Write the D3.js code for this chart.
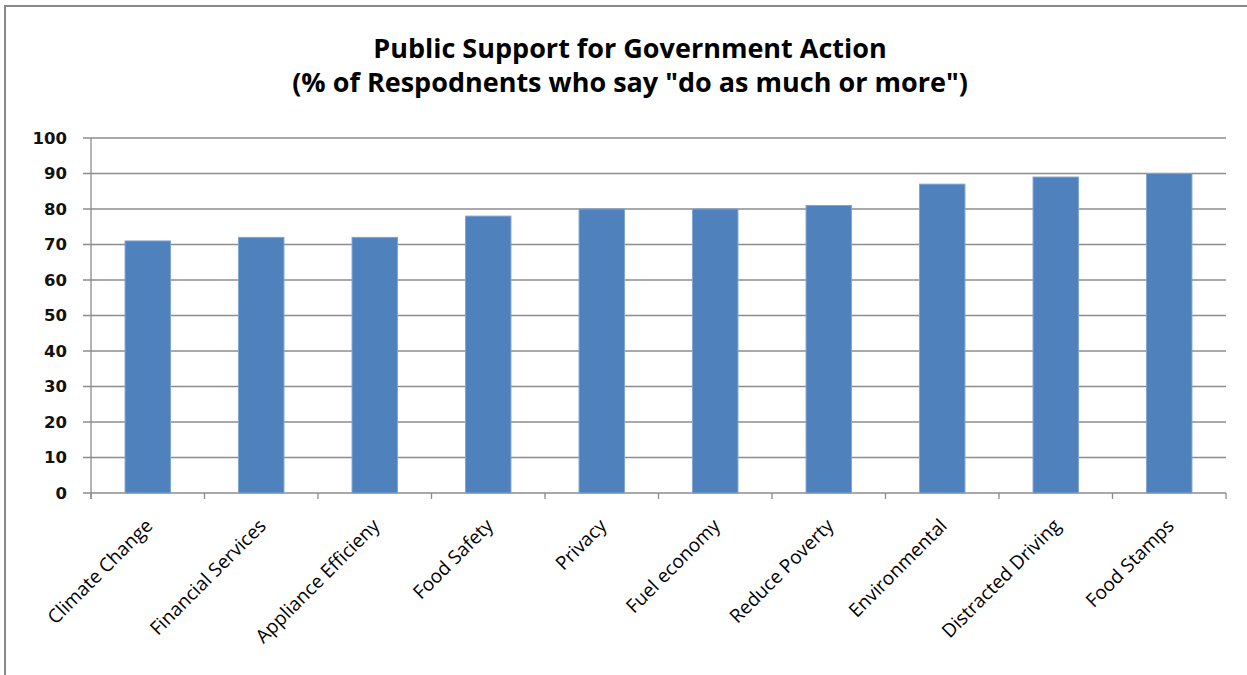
<!DOCTYPE html>
<html>
<head>
<meta charset="utf-8">
<title>Public Support for Government Action</title>
<script src="https://d3js.org/d3.v7.min.js"></script>
<style>
  body { margin: 0; background: #fff; }
  svg { display: block; }
</style>
</head>
<body>
<svg width="1247" height="675"></svg>
<script>
// data
var categories = ["Climate Change", "Financial Services", "Appliance Efficieny", "Food Safety",
  "Privacy", "Fuel economy", "Reduce Poverty", "Environmental", "Distracted Driving", "Food Stamps"];
var support = [71, 72, 72, 78, 80, 80, 81, 87, 89, 90];
var yTicks = [0, 10, 20, 30, 40, 50, 60, 70, 80, 90, 100];
var titleLines = ["Public Support for Government Action",
  "(% of Respodnents who say \"do as much or more\")"];

var svg = d3.select("svg"),
    margin = { top: 138, right: 21, bottom: 182, left: 91 },
    width = +svg.attr("width") - margin.left - margin.right,
    height = +svg.attr("height") - margin.top - margin.bottom;

// chart frame (only top and left edges show in the picture)
svg.append("path")
    .attr("d", "M5,675 V6 H1247")
    .attr("fill", "none")
    .attr("stroke", "#8a8a8a")
    .attr("stroke-width", 2);

var g = svg.append("g")
    .attr("transform", "translate(" + margin.left + "," + margin.top + ")");

var x = d3.scaleBand()
    .domain(categories)
    .range([0, width])
    .paddingInner(0.6)
    .paddingOuter(0.3);

var xs = d3.scaleBand().domain(categories).range([0, width]); // full slots for ticks

var y = d3.scaleLinear()
    .domain([0, 100])
    .range([height, 0]);

// gridlines
g.append("g")
    .selectAll("line")
    .data(yTicks)
    .join("line")
    .attr("x1", -8)
    .attr("x2", width)
    .attr("y1", function (d) { return y(d); })
    .attr("y2", function (d) { return y(d); })
    .attr("stroke", "#8c8c8c")
    .attr("stroke-width", 1.3);

// y axis line
g.append("line")
    .attr("x1", 0).attr("x2", 0)
    .attr("y1", 0).attr("y2", height + 6)
    .attr("stroke", "#8c8c8c")
    .attr("stroke-width", 1.3);

// x tick marks between categories
g.append("g")
    .selectAll("line")
    .data(categories.concat([null]))
    .join("line")
    .attr("x1", function (d, i) { return i * xs.step(); })
    .attr("x2", function (d, i) { return i * xs.step(); })
    .attr("y1", height)
    .attr("y2", height + 6)
    .attr("stroke", "#8c8c8c")
    .attr("stroke-width", 1.3);

// bars
g.append("g")
    .selectAll("rect")
    .data(support)
    .join("rect")
    .attr("x", function (d, i) { return x(categories[i]); })
    .attr("y", function (d) { return y(d); })
    .attr("width", x.bandwidth())
    .attr("height", function (d) { return height - y(d); })
    .attr("fill", "#4f81bd")
    .attr("stroke", "#7fa3d2")
    .attr("stroke-width", 1);

// y tick labels
g.append("g")
    .selectAll("text")
    .data(yTicks)
    .join("text")
    .attr("x", -24)
    .attr("y", function (d) { return y(d); })
    .attr("dy", "0.36em")
    .attr("text-anchor", "end")
    .style("font-family", "'DejaVu Sans', sans-serif")
    .style("font-weight", "bold")
    .style("font-size", "16.5px")
    .style("fill", "#111")
    .text(function (d) { return d; });

// category labels, rotated
g.append("g")
    .selectAll("text")
    .data(categories)
    .join("text")
    .attr("transform", function (d) {
      return "translate(" + (xs(d) + xs.bandwidth() / 2 + 6) + "," + (height + 34) + ") rotate(-45)";
    })
    .attr("text-anchor", "end")
    .style("font-family", "'Open Sans', sans-serif")
    .style("font-size", "19px")
    .style("fill", "#000")
    .text(function (d) { return d; });

// title
svg.append("g")
    .selectAll("text")
    .data(titleLines)
    .join("text")
    .attr("x", 630)
    .attr("y", function (d, i) { return 58 + i * 34; })
    .attr("text-anchor", "middle")
    .style("font-family", "'Open Sans', sans-serif")
    .style("font-weight", "bold")
    .style("font-size", "27px")
    .text(function (d) { return d; });
</script>
</body>
</html>
